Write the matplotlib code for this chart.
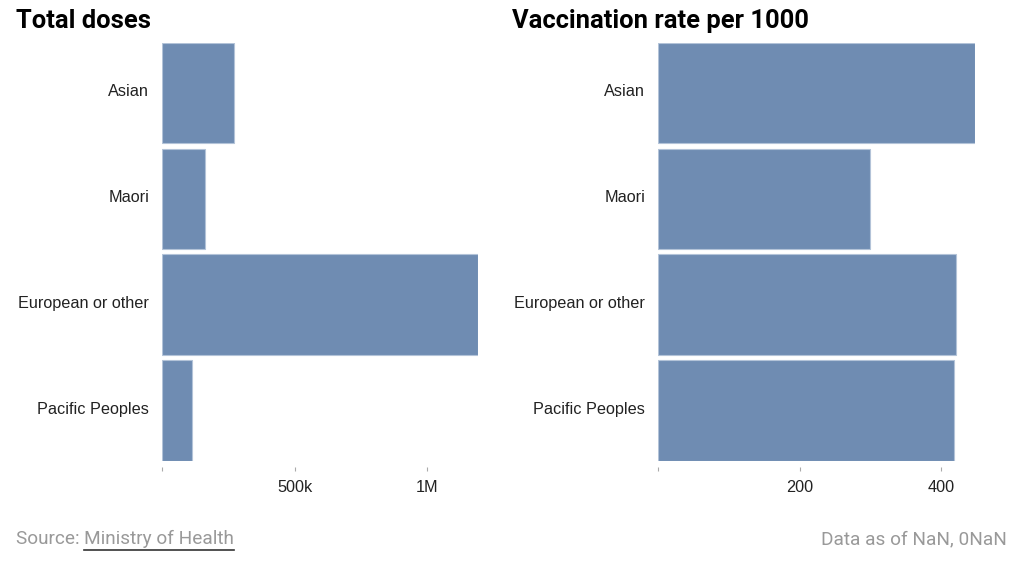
import matplotlib
matplotlib.use("Agg")
import matplotlib.pyplot as plt
from matplotlib.ticker import FuncFormatter

categories = ["Asian", "Maori", "European or other", "Pacific Peoples"]
total_doses = [272000, 162000, 1192000, 111000]
rate_per_1000 = [448, 300, 422, 418]
left_ticks = [0, 500000, 1000000]
right_ticks = [0, 200, 400]

W, H = 1024, 561
fig = plt.figure(figsize=(W / 100, H / 100), dpi=100)
fig.patch.set_facecolor("white")

BAR = "#6f8cb2"
EDGE = "#b3c3d8"
LABEL_FONT = ["Liberation Sans", "DejaVu Sans"]

def fmt_left(v, pos):
    if v == 0:
        return ""
    if v >= 1e6:
        return f"{v/1e6:g}M"
    return f"{v/1e3:g}k"

def fmt_right(v, pos):
    if v == 0:
        return ""
    return f"{v:g}"

def make_axes(x0, x1, values, ticks, fmt, title, title_x):
    y_top, y_bot = 42.7, 461.0
    ax = fig.add_axes([x0 / W, 1 - y_bot / H, (x1 - x0) / W, (y_bot - y_top) / H])
    ypos = list(range(len(categories)))
    ax.barh(ypos, values, height=0.95, color=BAR, edgecolor=EDGE, linewidth=0.8)
    ax.set_ylim(len(categories) - 1 + 0.475, -0.475)
    ax.set_xlim(0, max(values))
    # labels sit slightly above bar centre, as in the reference
    ax.set_yticks([p - 0.025 for p in ypos])
    ax.set_yticklabels(categories, fontfamily=LABEL_FONT, fontsize=11.7, color="#222222")
    ax.tick_params(axis="y", length=0, pad=9.5)
    ax.set_xticks(ticks)
    ax.xaxis.set_major_formatter(FuncFormatter(fmt))
    ax.tick_params(axis="x", length=3, width=0.8, color="#aaaaaa", pad=7,
                   labelsize=11.7, labelcolor="#222222", labelfontfamily="Liberation Sans")
    for s in ["top", "right", "left"]:
        ax.spines[s].set_visible(False)
    ax.spines["bottom"].set_position(("outward", 4))
    ax.spines["bottom"].set_visible(False)
    fig.text(title_x / W, 1 - 21 / H, title, fontfamily="Roboto", fontweight="bold",
             fontsize=18.4, color="#000000", ha="left", va="center")
    return ax

make_axes(162.3, 478.3, total_doses, left_ticks, fmt_left, "Total doses", 16)
make_axes(658.3, 974.7, rate_per_1000, right_ticks, fmt_right, "Vaccination rate per 1000", 512)

# Footer
FS = 13.7
ty = 1 - 539 / H
src = fig.text(16 / W, ty, "Source: ", fontfamily="Roboto", fontsize=FS,
               color="#999999", ha="left", va="center")
fig.canvas.draw()
bb = src.get_window_extent()
link = fig.text(bb.x1 / W, ty, "Ministry of Health", fontfamily="Roboto",
                fontsize=FS, color="#999999", ha="left", va="center")
fig.canvas.draw()
lb = link.get_window_extent()
fig.add_artist(plt.Line2D([lb.x0 / W, lb.x1 / W], [1 - 549.5 / H, 1 - 549.5 / H],
                          color="#333333", linewidth=1.2, transform=fig.transFigure))
fig.text(1007 / W, ty, "Data as of NaN, 0NaN", fontfamily="Roboto", fontsize=FS,
         color="#999999", ha="right", va="center")

fig.savefig("out.png", dpi=100, facecolor="white")
